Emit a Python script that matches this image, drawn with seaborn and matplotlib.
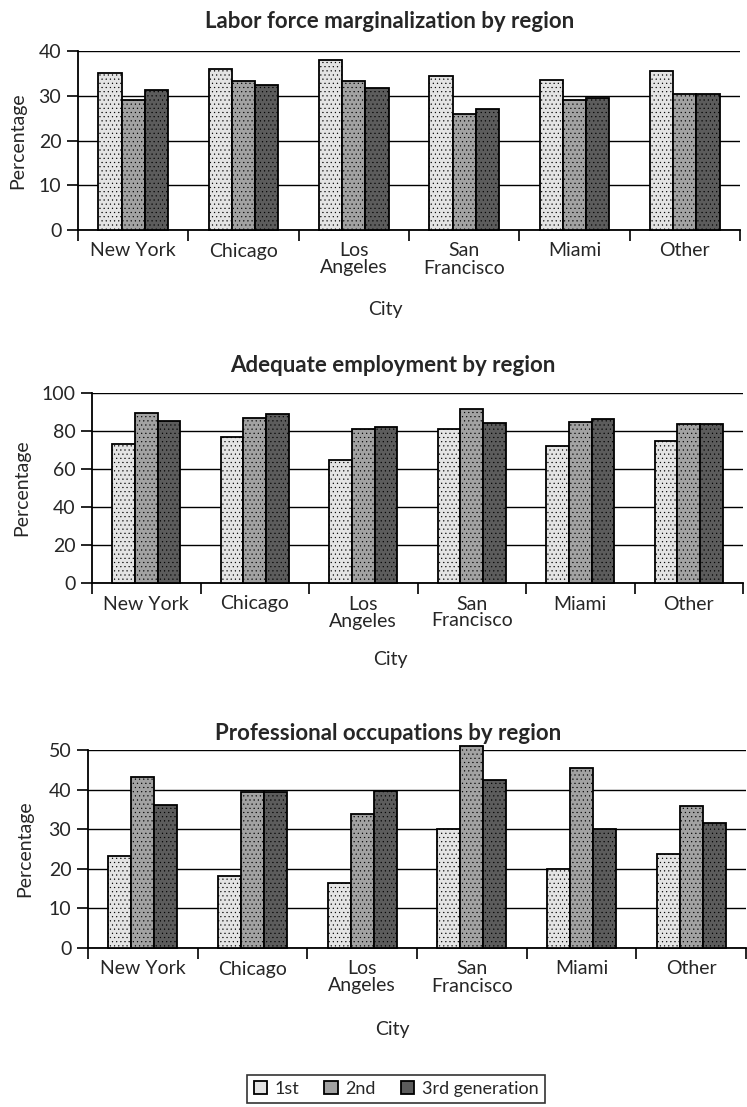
import matplotlib
matplotlib.use("Agg")
import matplotlib.pyplot as plt
import seaborn as sns
import pandas as pd
import numpy as np

cities = ["New York", "Chicago", "Los\nAngeles", "San\nFrancisco", "Miami", "Other"]
generations = ["1st", "2nd", "3rd generation"]

labor_1st = [35, 36, 38, 34.5, 33.5, 35.5]
labor_2nd = [29, 33.2, 33.4, 26, 29, 30.5]
labor_3rd = [31.3, 32.3, 31.7, 27, 29.5, 30.5]

adequate_1st = [73, 76.7, 64.8, 81, 72, 75]
adequate_2nd = [89.5, 87, 81.3, 91.5, 84.5, 83.5]
adequate_3rd = [85.5, 88.8, 82.3, 84, 86.5, 83.5]

prof_1st = [23.2, 18.3, 16.4, 30, 20, 23.8]
prof_2nd = [43.3, 39.4, 33.9, 51, 45.5, 35.8]
prof_3rd = [36.0, 39.4, 39.7, 42.3, 30, 31.6]

titles = ["Labor force marginalization by region",
          "Adequate employment by region",
          "Professional occupations by region"]
ymaxes = [40, 100, 50]
ysteps = [10, 20, 10]

panels = [
    (labor_1st, labor_2nd, labor_3rd),
    (adequate_1st, adequate_2nd, adequate_3rd),
    (prof_1st, prof_2nd, prof_3rd),
]

colors = ["#e4e4e4", "#a2a2a2", "#5c5c5c"]
hatches = ["....", "....", "...."]

# panel geometry in pixels: left, right, top, bottom,
# title centre (x, y), x-label centre (x, y), y-label centre x
W, H = 747, 1107
layout = [
    dict(l=78, r=740, t=51, b=230, tx=390, ty=22, cx=385, cy=310, py=18),
    dict(l=92, r=743, t=393, b=583, tx=393, ty=365, cx=390, cy=659, py=22),
    dict(l=88, r=746, t=750, b=948, tx=388, ty=734, cx=392, cy=1029, py=25),
]

sns.set_theme(style="white")
plt.rcParams["font.family"] = ["Lato", "DejaVu Sans"]
plt.rcParams["hatch.linewidth"] = 0.35

fig = plt.figure(figsize=(W / 100, H / 100), dpi=100)

for i, (vals, title, ymax, ystep, g) in enumerate(
        zip(panels, titles, ymaxes, ysteps, layout)):
    aw, ah = g["r"] - g["l"], g["b"] - g["t"]
    ax = fig.add_axes([g["l"] / W, 1 - g["b"] / H, aw / W, ah / H])
    df = pd.DataFrame({
        "City": np.repeat(cities, 3),
        "Generation": generations * len(cities),
        "Percentage": np.ravel(np.column_stack(vals)),
    })
    sns.barplot(data=df, x="City", y="Percentage", hue="Generation",
                order=cities, hue_order=generations, palette=colors,
                width=0.63, edgecolor="black", linewidth=1.3,
                legend=(i == 0), ax=ax, zorder=3)
    for cont, h in zip(ax.containers, hatches):
        for p in cont.patches:
            p.set_hatch(h)
            p.set_clip_on(False)

    ax.set_xlim(-0.5, len(cities) - 0.5)
    ax.set_ylim(0, ymax)
    ax.set_yticks(np.arange(0, ymax + ystep, ystep))
    ax.yaxis.grid(True, color="black", linewidth=1.0, zorder=0)
    ax.set_axisbelow(True)

    ax.set_xticks(np.arange(-0.5, len(cities), 1.0))
    ax.set_xticklabels([])
    ax.set_xticks(np.arange(len(cities)), minor=True)
    ax.set_xticklabels(cities, minor=True, fontsize=14, linespacing=1.0)
    ax.tick_params(axis="x", which="major", direction="out", length=8,
                   width=1.2, color="black", bottom=True)
    ax.tick_params(axis="x", which="minor", length=0, pad=9)
    ax.tick_params(axis="y", direction="out", length=8, width=1.2,
                   color="black", left=True, labelsize=14, pad=4)

    for s in ["top", "right"]:
        ax.spines[s].set_visible(False)
    for s in ["left", "bottom"]:
        ax.spines[s].set_color("black")
        ax.spines[s].set_linewidth(1.3)

    ax.set_ylabel("Percentage", fontsize=14)
    ax.yaxis.label.set_va("center")
    ax.yaxis.set_label_coords((g["py"] - g["l"]) / aw, 0.5)

    ax.set_xlabel("City", fontsize=14)
    ax.xaxis.label.set_va("center")
    ax.xaxis.set_label_coords((g["cx"] - g["l"]) / aw, -(g["cy"] - g["b"]) / ah)

    fig.text(g["tx"] / W, 1 - g["ty"] / H, title, fontsize=16,
             fontweight="bold", ha="center", va="center")

    if i == 0:
        handles, labels = ax.get_legend_handles_labels()
        ax.get_legend().remove()

leg = fig.legend(handles, labels, loc="center", ncol=3,
                 bbox_to_anchor=(396 / W, 1 - 1089 / H),
                 frameon=True, fancybox=False, fontsize=13,
                 handlelength=0.75, handleheight=0.75, handletextpad=0.4,
                 columnspacing=1.4, borderpad=0.35)
leg.get_frame().set_edgecolor("black")
leg.get_frame().set_linewidth(1.2)

fig.savefig("out.png", dpi=100)
